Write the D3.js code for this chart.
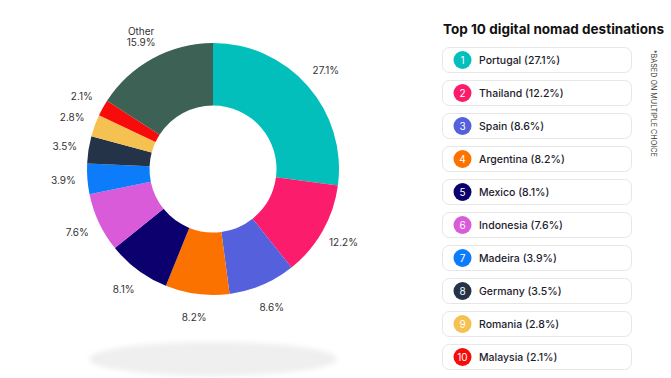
<!DOCTYPE html>
<html>
<head>
<meta charset="utf-8">
<script src="https://cdn.jsdelivr.net/npm/d3@7"></script>
<style>
  body { margin: 0; background: #fff; }
  svg { display: block; font-family: "Inter", "Open Sans", sans-serif; }
</style>
</head>
<body>
<script>
// data
var countries = ["Portugal", "Thailand", "Spain", "Argentina", "Mexico",
                 "Indonesia", "Madeira", "Germany", "Romania", "Malaysia", "Other"];
var shares = [27.1, 12.2, 8.6, 8.2, 8.1, 7.6, 3.9, 3.5, 2.8, 2.1, 15.9];
var colors = ["#03bfbc", "#fc1c6c", "#5460dc", "#fb7200", "#0b006e",
              "#d95bd9", "#0d7cfa", "#253349", "#f5c150", "#f70b0b", "#3e6155"];
var title = "Top 10 digital nomad destinations";
var note = "*BASED ON MULTIPLE CHOICE";

var width = 671, height = 378;
var cx = 213, cy = 169;
var outerR = 126, innerR = 63.5, labelR = 150;

var svg = d3.select("body").append("svg")
  .attr("width", width)
  .attr("height", height);

// soft shadow under the donut
var defs = svg.append("defs");
defs.append("filter").attr("id", "blur")
  .attr("x", "-20%").attr("y", "-100%").attr("width", "140%").attr("height", "300%")
  .append("feGaussianBlur").attr("stdDeviation", 2.5);

svg.append("ellipse")
  .attr("cx", cx).attr("cy", 359)
  .attr("rx", 124).attr("ry", 17)
  .attr("fill", "#efefef")
  .attr("filter", "url(#blur)");

var slices = countries.map(function(c, i) {
  return {name: c, value: shares[i], color: colors[i]};
});

var pie = d3.pie()
  .sort(null)
  .value(function(d) { return d.value; });

var arc = d3.arc().innerRadius(innerR).outerRadius(outerR);
var labelArc = d3.arc().innerRadius(labelR).outerRadius(labelR);

var chart = svg.append("g")
  .attr("transform", "translate(" + cx + "," + cy + ")");

var arcs = pie(slices);

chart.selectAll("path")
  .data(arcs)
  .enter().append("path")
  .attr("d", arc)
  .attr("fill", function(d) { return d.data.color; });

var labels = chart.selectAll(".lbl")
  .data(arcs)
  .enter().append("text")
  .attr("class", "lbl")
  .attr("transform", function(d) { return "translate(" + labelArc.centroid(d) + ")"; })
  .attr("text-anchor", "middle")
  .attr("font-size", 10)
  .attr("fill", "#333");

labels.each(function(d) {
  var t = d3.select(this);
  if (d.data.name == "Other") {
    t.append("tspan").attr("x", 0).attr("dy", "-0.25em").text("Other");
    t.append("tspan").attr("x", 0).attr("dy", "1.1em").text(d.data.value + "%");
  } else {
    t.attr("dy", "0.35em").text(d.data.value + "%");
  }
});

// legend
svg.append("text")
  .attr("x", 443).attr("y", 34)
  .attr("font-size", 13.5)
  .attr("font-weight", 700)
  .attr("fill", "#111")
  .attr("textLength", 221)
  .attr("lengthAdjust", "spacing")
  .text(title);

var top10 = slices.slice(0, 10);
var rowY = d3.scaleBand()
  .domain(d3.range(top10.length))
  .range([47, 369])
  .paddingInner(8 / 33)
  .paddingOuter(0);

var rows = svg.selectAll(".row")
  .data(top10)
  .enter().append("g")
  .attr("class", "row")
  .attr("transform", function(d, i) { return "translate(442," + rowY(i) + ")"; });

rows.append("rect")
  .attr("x", 0.5).attr("y", 0.5)
  .attr("width", 189).attr("height", rowY.bandwidth())
  .attr("rx", 7)
  .attr("fill", "#fff")
  .attr("stroke", "#e6e6e6");

rows.append("circle")
  .attr("cx", 20.5).attr("cy", rowY.bandwidth() / 2 + 0.5)
  .attr("r", 9)
  .attr("fill", function(d) { return d.color; });

rows.append("text")
  .attr("x", 20.5).attr("y", rowY.bandwidth() / 2 + 0.5)
  .attr("dy", "0.36em")
  .attr("text-anchor", "middle")
  .attr("font-size", 10)
  .attr("fill", "#fff")
  .text(function(d, i) { return i + 1; });

rows.append("text")
  .attr("x", 37).attr("y", rowY.bandwidth() / 2 + 0.5)
  .attr("dy", "0.36em")
  .attr("font-size", 10.5)
  .attr("font-weight", 500)
  .attr("fill", "#1c1c2c")
  .text(function(d) { return d.name + " (" + d.value + "%)"; });

svg.append("text")
  .attr("transform", "translate(651,50) rotate(90)")
  .attr("font-size", 7.2)
  .attr("fill", "#333")
  .text(note);
</script>
</body>
</html>
